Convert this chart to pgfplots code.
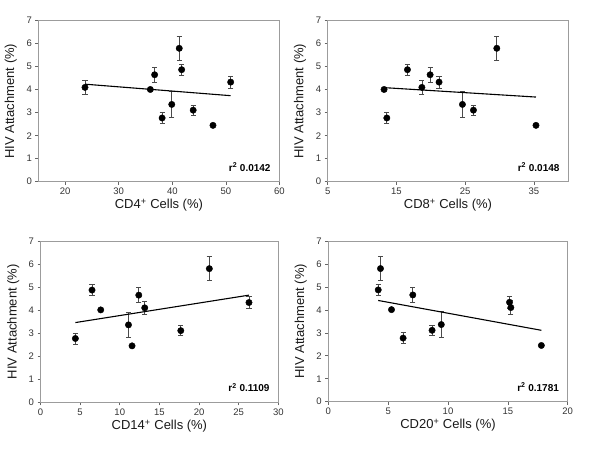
\documentclass[border=0pt]{standalone}
\usepackage{pgfplots}
\pgfplotsset{compat=1.18}
\usepackage{fontspec}
\setmainfont{Liberation Sans}
\definecolor{frame}{HTML}{9C9C9C}
\definecolor{ebar}{HTML}{4A4A4A}
\tikzset{rlab/.style={anchor=base east, font=\bfseries\fontsize{10}{12}\selectfont}}
\pgfplotsset{
  panel/.style={
    height=161pt, scale only axis, anchor=south west,
    ymin=0, ymax=7, ytick={0,1,...,7},
    axis line style={frame, line width=1pt},
    tick pos=left, tick align=outside, major tick length=3pt,
    tick style={black!60, line width=0.6pt},
    /pgf/number format/assume math mode=true,
    ticklabel style={font=\fontsize{9.5}{11}\selectfont, color=black!80},
    label style={font=\fontsize{13}{15}\selectfont, color=black!90},
    ylabel={HIV Attachment (\%)},
    ylabel style={at={(axis description cs:-0.115,0.5)}, anchor=center},
    xlabel style={at={(axis description cs:0.5,-0.148)}, anchor=center},
    clip=false,
  },
  pts/.style={only marks, mark=*, mark size=3.2pt, black,
    error bars/.cd, y dir=both, y explicit,
    error bar style={ebar, line width=0.7pt},
    error mark options={rotate=90, mark size=2.6pt, ebar, line width=0.7pt}},
  reg/.style={black, line width=1.1pt, no marks},
}
\begin{document}
\begin{tikzpicture}
\useasboundingbox (0,0) rectangle (600pt,450pt);
% CD4
\begin{axis}[panel, at={(38.4pt,268.3pt)}, width=241pt,
  xmin=15, xmax=60, xtick={20,30,40,50,60},
  xlabel={CD4\textsuperscript{+} Cells (\%)}]
\addplot[pts] table[x=x, y=y, y error=e] {
x y e
23.7 4.10 0.30
35.9 4.01 0.00
36.7 4.65 0.33
38.1 2.77 0.24
39.9 3.36 0.56
41.3 5.80 0.52
41.75 4.87 0.23
43.9 3.11 0.22
47.6 2.45 0.00
50.9 4.33 0.25
};
\addplot[reg] coordinates {(23.7,4.24) (50.9,3.74)};
\node[rlab] at (rel axis cs:0.978,0.065) {r\textsuperscript{2} 0.0142};
\end{axis}
% CD8
\begin{axis}[panel, at={(327.7pt,268.3pt)}, width=240.6pt,
  xmin=5, xmax=40, xtick={5,15,25,35},
  xlabel={CD8\textsuperscript{+} Cells (\%)}]
\addplot[pts] table[x=x, y=y, y error=e] {
x y e
18.7 4.10 0.30
13.2 4.01 0.00
19.9 4.65 0.33
13.6 2.77 0.24
24.6 3.36 0.56
29.6 5.80 0.52
16.6 4.87 0.23
26.2 3.11 0.22
35.3 2.45 0.00
21.2 4.33 0.25
};
\addplot[reg] coordinates {(13.2,4.09) (35.3,3.68)};
\node[rlab] at (rel axis cs:0.978,0.065) {r\textsuperscript{2} 0.0148};
\end{axis}
% CD14
\begin{axis}[panel, at={(40.5pt,47.7pt)}, width=237.8pt, height=161.3pt,
  xmin=0, xmax=30, xtick={0,5,...,30},
  xlabel={CD14\textsuperscript{+} Cells (\%)}]
\addplot[pts] table[x=x, y=y, y error=e] {
x y e
13.15 4.10 0.30
7.6 4.01 0.00
12.4 4.65 0.33
4.4 2.77 0.24
11.1 3.36 0.56
21.3 5.80 0.52
6.5 4.87 0.23
17.7 3.11 0.22
11.55 2.45 0.00
26.3 4.33 0.25
};
\addplot[reg] coordinates {(4.4,3.46) (26.3,4.65)};
\node[rlab] at (rel axis cs:0.978,0.065) {r\textsuperscript{2} 0.1109};
\end{axis}
% CD20
\begin{axis}[panel, at={(328.3pt,48.3pt)}, width=239.4pt, height=160.7pt,
  xmin=0, xmax=20, xtick={0,5,...,20},
  xlabel={CD20\textsuperscript{+} Cells (\%)}]
\addplot[pts] table[x=x, y=y, y error=e] {
x y e
15.25 4.10 0.30
5.28 4.01 0.00
7.06 4.65 0.33
6.25 2.77 0.24
9.44 3.36 0.56
4.36 5.80 0.52
4.17 4.87 0.23
8.67 3.11 0.22
17.8 2.45 0.00
15.14 4.33 0.25
};
\addplot[reg] coordinates {(4.17,4.41) (17.8,3.11)};
\node[rlab] at (rel axis cs:0.978,0.065) {r\textsuperscript{2} 0.1781};
\end{axis}
\end{tikzpicture}
\end{document}
